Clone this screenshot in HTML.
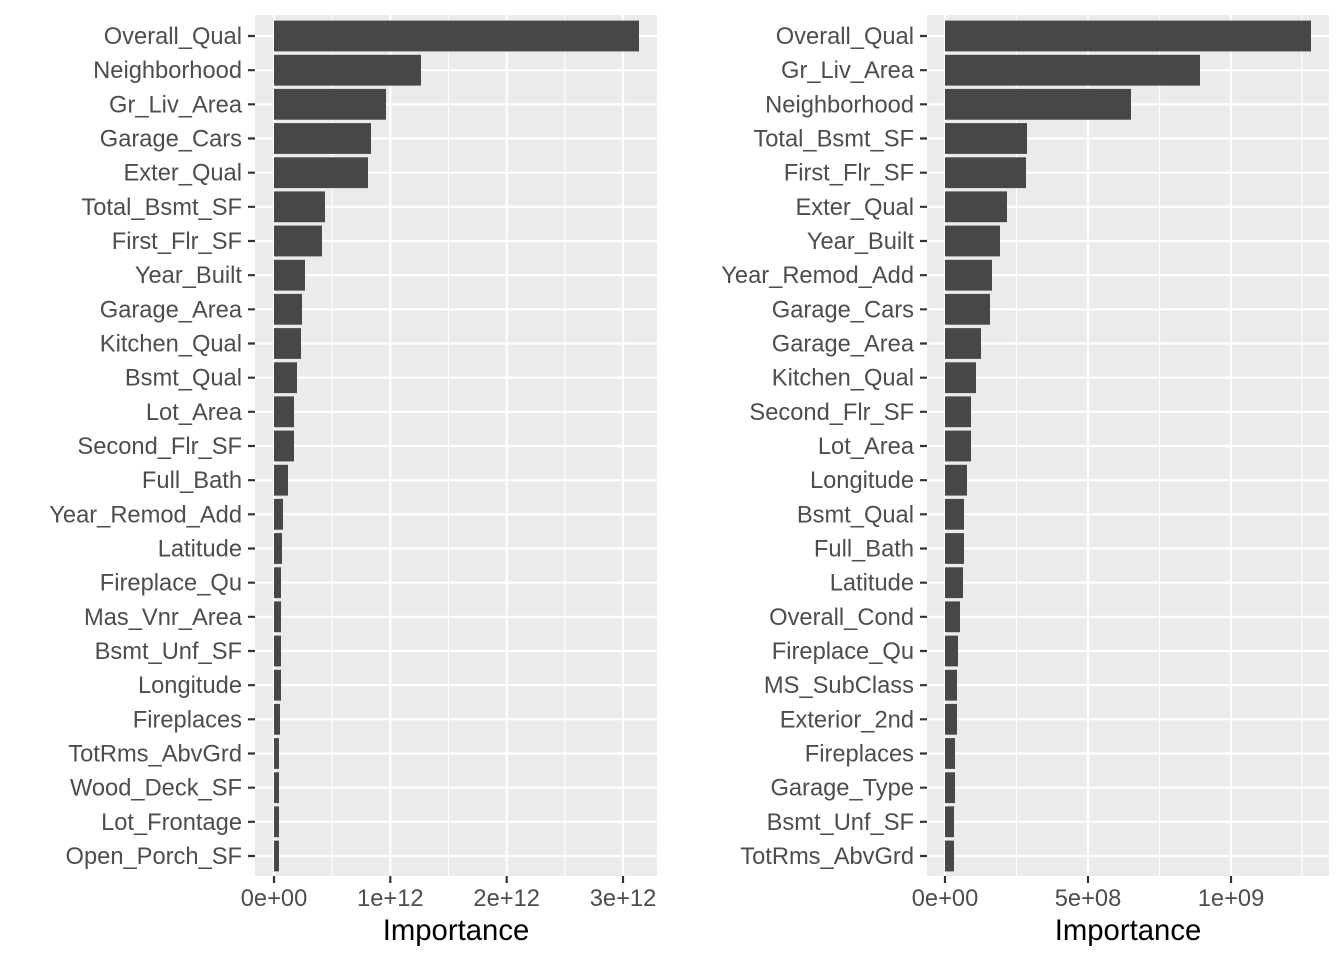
<!DOCTYPE html>
<html><head><meta charset="utf-8"><style>html,body{margin:0;padding:0;background:#fff}svg{display:block}</style></head>
<body>
<svg width="1344" height="960" xmlns="http://www.w3.org/2000/svg" font-family="Liberation Sans, Arial, sans-serif">
<rect x="255" y="15" width="402" height="861" fill="#ebebeb"/>
<g stroke="#fff" stroke-width="1.1">
<line x1="332.2" y1="15" x2="332.2" y2="876"/><line x1="448.5" y1="15" x2="448.5" y2="876"/><line x1="564.8" y1="15" x2="564.8" y2="876"/>
</g>
<g stroke="#fff" stroke-width="2.2">
<line x1="274" y1="15" x2="274" y2="876"/><line x1="390.3" y1="15" x2="390.3" y2="876"/><line x1="506.7" y1="15" x2="506.7" y2="876"/><line x1="623" y1="15" x2="623" y2="876"/>
</g>
<rect x="927" y="15" width="402" height="861" fill="#ebebeb"/>
<g stroke="#fff" stroke-width="1.1">
<line x1="1016.5" y1="15" x2="1016.5" y2="876"/><line x1="1159.5" y1="15" x2="1159.5" y2="876"/><line x1="1302" y1="15" x2="1302" y2="876"/>
</g>
<g stroke="#fff" stroke-width="2.2">
<line x1="945" y1="15" x2="945" y2="876"/><line x1="1088" y1="15" x2="1088" y2="876"/><line x1="1231" y1="15" x2="1231" y2="876"/>
</g>
<g stroke="#fff" stroke-width="2.2">
<line x1="255" x2="657" y1="36" y2="36"/><line x1="255" x2="657" y1="70.17" y2="70.17"/><line x1="255" x2="657" y1="104.33" y2="104.33"/><line x1="255" x2="657" y1="138.5" y2="138.5"/><line x1="255" x2="657" y1="172.67" y2="172.67"/><line x1="255" x2="657" y1="206.83" y2="206.83"/><line x1="255" x2="657" y1="241" y2="241"/><line x1="255" x2="657" y1="275.17" y2="275.17"/><line x1="255" x2="657" y1="309.33" y2="309.33"/><line x1="255" x2="657" y1="343.5" y2="343.5"/><line x1="255" x2="657" y1="377.67" y2="377.67"/><line x1="255" x2="657" y1="411.83" y2="411.83"/><line x1="255" x2="657" y1="446" y2="446"/><line x1="255" x2="657" y1="480.17" y2="480.17"/><line x1="255" x2="657" y1="514.33" y2="514.33"/><line x1="255" x2="657" y1="548.5" y2="548.5"/><line x1="255" x2="657" y1="582.67" y2="582.67"/><line x1="255" x2="657" y1="616.83" y2="616.83"/><line x1="255" x2="657" y1="651" y2="651"/><line x1="255" x2="657" y1="685.17" y2="685.17"/><line x1="255" x2="657" y1="719.33" y2="719.33"/><line x1="255" x2="657" y1="753.5" y2="753.5"/><line x1="255" x2="657" y1="787.67" y2="787.67"/><line x1="255" x2="657" y1="821.83" y2="821.83"/><line x1="255" x2="657" y1="856" y2="856"/>
<line x1="927" x2="1329" y1="36" y2="36"/><line x1="927" x2="1329" y1="70.17" y2="70.17"/><line x1="927" x2="1329" y1="104.33" y2="104.33"/><line x1="927" x2="1329" y1="138.5" y2="138.5"/><line x1="927" x2="1329" y1="172.67" y2="172.67"/><line x1="927" x2="1329" y1="206.83" y2="206.83"/><line x1="927" x2="1329" y1="241" y2="241"/><line x1="927" x2="1329" y1="275.17" y2="275.17"/><line x1="927" x2="1329" y1="309.33" y2="309.33"/><line x1="927" x2="1329" y1="343.5" y2="343.5"/><line x1="927" x2="1329" y1="377.67" y2="377.67"/><line x1="927" x2="1329" y1="411.83" y2="411.83"/><line x1="927" x2="1329" y1="446" y2="446"/><line x1="927" x2="1329" y1="480.17" y2="480.17"/><line x1="927" x2="1329" y1="514.33" y2="514.33"/><line x1="927" x2="1329" y1="548.5" y2="548.5"/><line x1="927" x2="1329" y1="582.67" y2="582.67"/><line x1="927" x2="1329" y1="616.83" y2="616.83"/><line x1="927" x2="1329" y1="651" y2="651"/><line x1="927" x2="1329" y1="685.17" y2="685.17"/><line x1="927" x2="1329" y1="719.33" y2="719.33"/><line x1="927" x2="1329" y1="753.5" y2="753.5"/><line x1="927" x2="1329" y1="787.67" y2="787.67"/><line x1="927" x2="1329" y1="821.83" y2="821.83"/><line x1="927" x2="1329" y1="856" y2="856"/>
</g>
<g fill="#474747">
<rect x="274" y="20.6" height="30.8" width="365"/>
<rect x="274" y="54.8" height="30.8" width="147"/>
<rect x="274" y="88.9" height="30.8" width="112"/>
<rect x="274" y="123.1" height="30.8" width="97"/>
<rect x="274" y="157.3" height="30.8" width="94"/>
<rect x="274" y="191.4" height="30.8" width="51"/>
<rect x="274" y="225.6" height="30.8" width="48"/>
<rect x="274" y="259.8" height="30.8" width="31"/>
<rect x="274" y="293.9" height="30.8" width="28"/>
<rect x="274" y="328.1" height="30.8" width="27"/>
<rect x="274" y="362.3" height="30.8" width="23"/>
<rect x="274" y="396.4" height="30.8" width="20"/>
<rect x="274" y="430.6" height="30.8" width="20"/>
<rect x="274" y="464.8" height="30.8" width="14"/>
<rect x="274" y="498.9" height="30.8" width="9"/>
<rect x="274" y="533.1" height="30.8" width="8"/>
<rect x="274" y="567.3" height="30.8" width="7"/>
<rect x="274" y="601.4" height="30.8" width="7"/>
<rect x="274" y="635.6" height="30.8" width="7"/>
<rect x="274" y="669.8" height="30.8" width="7"/>
<rect x="274" y="703.9" height="30.8" width="6"/>
<rect x="274" y="738.1" height="30.8" width="5"/>
<rect x="274" y="772.3" height="30.8" width="5"/>
<rect x="274" y="806.4" height="30.8" width="5"/>
<rect x="274" y="840.6" height="30.8" width="5"/>
</g>
<g fill="#474747">
<rect x="945" y="20.6" height="30.8" width="366"/>
<rect x="945" y="54.8" height="30.8" width="255"/>
<rect x="945" y="88.9" height="30.8" width="186"/>
<rect x="945" y="123.1" height="30.8" width="82"/>
<rect x="945" y="157.3" height="30.8" width="81"/>
<rect x="945" y="191.4" height="30.8" width="62"/>
<rect x="945" y="225.6" height="30.8" width="55"/>
<rect x="945" y="259.8" height="30.8" width="47"/>
<rect x="945" y="293.9" height="30.8" width="45"/>
<rect x="945" y="328.1" height="30.8" width="36"/>
<rect x="945" y="362.3" height="30.8" width="31"/>
<rect x="945" y="396.4" height="30.8" width="26"/>
<rect x="945" y="430.6" height="30.8" width="26"/>
<rect x="945" y="464.8" height="30.8" width="22"/>
<rect x="945" y="498.9" height="30.8" width="19"/>
<rect x="945" y="533.1" height="30.8" width="19"/>
<rect x="945" y="567.3" height="30.8" width="18"/>
<rect x="945" y="601.4" height="30.8" width="15"/>
<rect x="945" y="635.6" height="30.8" width="13"/>
<rect x="945" y="669.8" height="30.8" width="12"/>
<rect x="945" y="703.9" height="30.8" width="12"/>
<rect x="945" y="738.1" height="30.8" width="10"/>
<rect x="945" y="772.3" height="30.8" width="10"/>
<rect x="945" y="806.4" height="30.8" width="9"/>
<rect x="945" y="840.6" height="30.8" width="9"/>
</g>
<g stroke="#333" stroke-width="2.2">
<path d="M248 36h7M248 70.17h7M248 104.33h7M248 138.5h7M248 172.67h7M248 206.83h7M248 241h7M248 275.17h7M248 309.33h7M248 343.5h7M248 377.67h7M248 411.83h7M248 446h7M248 480.17h7M248 514.33h7M248 548.5h7M248 582.67h7M248 616.83h7M248 651h7M248 685.17h7M248 719.33h7M248 753.5h7M248 787.67h7M248 821.83h7M248 856h7"/>
<path d="M920 36h7M920 70.17h7M920 104.33h7M920 138.5h7M920 172.67h7M920 206.83h7M920 241h7M920 275.17h7M920 309.33h7M920 343.5h7M920 377.67h7M920 411.83h7M920 446h7M920 480.17h7M920 514.33h7M920 548.5h7M920 582.67h7M920 616.83h7M920 651h7M920 685.17h7M920 719.33h7M920 753.5h7M920 787.67h7M920 821.83h7M920 856h7"/>
<path d="M274 876v7M390.3 876v7M506.7 876v7M623 876v7M945 876v7M1088 876v7M1231 876v7"/>
</g>
<g font-size="23.7" fill="#4d4d4d" text-anchor="end">
<text x="242" y="44">Overall_Qual</text>
<text x="242" y="78.2">Neighborhood</text>
<text x="242" y="112.3">Gr_Liv_Area</text>
<text x="242" y="146.5">Garage_Cars</text>
<text x="242" y="180.7">Exter_Qual</text>
<text x="242" y="214.8">Total_Bsmt_SF</text>
<text x="242" y="249">First_Flr_SF</text>
<text x="242" y="283.2">Year_Built</text>
<text x="242" y="317.3">Garage_Area</text>
<text x="242" y="351.5">Kitchen_Qual</text>
<text x="242" y="385.7">Bsmt_Qual</text>
<text x="242" y="419.8">Lot_Area</text>
<text x="242" y="454">Second_Flr_SF</text>
<text x="242" y="488.2">Full_Bath</text>
<text x="242" y="522.3">Year_Remod_Add</text>
<text x="242" y="556.5">Latitude</text>
<text x="242" y="590.7">Fireplace_Qu</text>
<text x="242" y="624.8">Mas_Vnr_Area</text>
<text x="242" y="659">Bsmt_Unf_SF</text>
<text x="242" y="693.2">Longitude</text>
<text x="242" y="727.3">Fireplaces</text>
<text x="242" y="761.5">TotRms_AbvGrd</text>
<text x="242" y="795.7">Wood_Deck_SF</text>
<text x="242" y="829.8">Lot_Frontage</text>
<text x="242" y="864">Open_Porch_SF</text>
</g>
<g font-size="23.7" fill="#4d4d4d" text-anchor="end">
<text x="914" y="44">Overall_Qual</text>
<text x="914" y="78.2">Gr_Liv_Area</text>
<text x="914" y="112.3">Neighborhood</text>
<text x="914" y="146.5">Total_Bsmt_SF</text>
<text x="914" y="180.7">First_Flr_SF</text>
<text x="914" y="214.8">Exter_Qual</text>
<text x="914" y="249">Year_Built</text>
<text x="914" y="283.2">Year_Remod_Add</text>
<text x="914" y="317.3">Garage_Cars</text>
<text x="914" y="351.5">Garage_Area</text>
<text x="914" y="385.7">Kitchen_Qual</text>
<text x="914" y="419.8">Second_Flr_SF</text>
<text x="914" y="454">Lot_Area</text>
<text x="914" y="488.2">Longitude</text>
<text x="914" y="522.3">Bsmt_Qual</text>
<text x="914" y="556.5">Full_Bath</text>
<text x="914" y="590.7">Latitude</text>
<text x="914" y="624.8">Overall_Cond</text>
<text x="914" y="659">Fireplace_Qu</text>
<text x="914" y="693.2">MS_SubClass</text>
<text x="914" y="727.3">Exterior_2nd</text>
<text x="914" y="761.5">Fireplaces</text>
<text x="914" y="795.7">Garage_Type</text>
<text x="914" y="829.8">Bsmt_Unf_SF</text>
<text x="914" y="864">TotRms_AbvGrd</text>
</g>
<g font-size="23.7" fill="#4d4d4d" text-anchor="middle">
<text x="274" y="906">0e+00</text><text x="390.3" y="906">1e+12</text><text x="506.7" y="906">2e+12</text><text x="623" y="906">3e+12</text>
<text x="945" y="906">0e+00</text><text x="1088" y="906">5e+08</text><text x="1231" y="906">1e+09</text>
</g>
<g font-size="29.3" fill="#000" text-anchor="middle">
<text x="456" y="940">Importance</text>
<text x="1128" y="940">Importance</text>
</g>
</svg>
</body></html>
